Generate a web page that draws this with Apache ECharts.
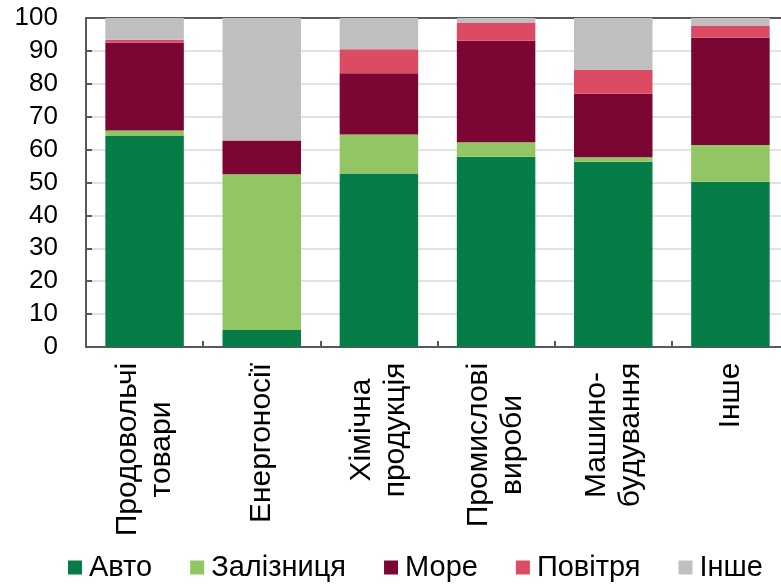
<!DOCTYPE html>
<html>
<head>
<meta charset="utf-8">
<script src="https://cdn.jsdelivr.net/npm/echarts@6/dist/echarts.min.js"></script>
<style>
html,body{margin:0;padding:0;background:#fff;overflow:hidden;width:781px;height:586px;}
#chart{width:789px;height:586px;}
</style>
</head>
<body>
<div id="chart"></div>
<script>
const categories = ['Продовольчі\nтовари', 'Енергоносії', 'Хімічна\nпродукція', 'Промислові\nвироби', 'Машино-\nбудування', 'Інше'];
const seriesNames = ['Авто', 'Залізниця', 'Море', 'Повітря', 'Інше'];
const auto = [64.1, 5.2, 52.7, 57.8, 56.3, 50.2];
const rail = [1.7, 47.3, 11.9, 4.4, 1.4, 11.2];
const sea = [26.7, 10.3, 18.6, 30.9, 19.3, 32.6];
const air = [0.9, 0, 7.3, 5.5, 7.2, 3.7];
const other = [6.6, 37.2, 9.5, 1.4, 15.8, 2.3];
const yTicks = [0, 10, 20, 30, 40, 50, 60, 70, 80, 90, 100];

const colors = ['#067d46', '#92c665', '#7b0533', '#db4c64', '#bfbfbf'];
const FONT = '"Liberation Sans", Arial, sans-serif';
const catFontSize = 30;

// measure label lines to center-align multi-line rotated labels
const cv = document.createElement('canvas').getContext('2d');
cv.font = catFontSize + 'px ' + FONT;
const rich = {};
categories.forEach((c, i) => {
  const w = Math.max(...c.split('\n').map(l => cv.measureText(l).width));
  rich['c' + i] = { width: Math.ceil(w) + 1, align: 'center', fontSize: catFontSize, fontFamily: FONT, color: '#000', lineHeight: 34 };
});

const chart = echarts.init(document.getElementById('chart'), null, { renderer: 'canvas' });
const dataSets = [auto, rail, sea, air, other];
chart.setOption({
  animation: false,
  backgroundColor: '#fff',
  color: colors,
  grid: { left: 86, top: 18, right: 0, bottom: 239, containLabel: false },
  legend: {
    data: seriesNames,
    left: 63, top: 548,
    icon: 'rect', itemWidth: 14, itemHeight: 14, itemGap: 38,
    textStyle: { fontSize: 29, fontFamily: FONT, color: '#000', padding: [0, 0, 0, 2] }
  },
  xAxis: [{
    type: 'category', data: categories, position: 'bottom',
    axisLine: { lineStyle: { color: '#595959', width: 2 } },
    axisTick: { show: true, inside: true, length: 6, interval: 0, lineStyle: { color: '#595959', width: 2 } },
    axisLabel: {
      interval: 0, rotate: 90, margin: 15,
      formatter: (v) => {
        const idx = categories.indexOf(v);
        return v.split('\n').map(l => '{c' + idx + '|' + l + '}').join('\n');
      },
      rich: rich
    },
    splitLine: { show: false }
  }, {
    type: 'category', data: categories, position: 'top',
    axisLine: { show: true, lineStyle: { color: '#595959', width: 2 } },
    axisTick: { show: false }, axisLabel: { show: false }, splitLine: { show: false }
  }],
  yAxis: {
    type: 'value', min: yTicks[0], max: yTicks[yTicks.length - 1], interval: 10,
    axisLine: { show: true, lineStyle: { color: '#595959', width: 2 } },
    axisTick: { show: true, inside: true, length: 6, lineStyle: { color: '#595959', width: 2 } },
    axisLabel: { fontSize: 26, fontFamily: FONT, color: '#000', margin: 28 },
    splitLine: { show: true, lineStyle: { color: '#d9d9d9', width: 1.5 } }
  },
  series: seriesNames.map((n, i) => ({
    name: n, type: 'bar', stack: 'total', data: dataSets[i],
    barCategoryGap: '33%',
    itemStyle: { color: colors[i] }
  }))
});
</script>
</body>
</html>
